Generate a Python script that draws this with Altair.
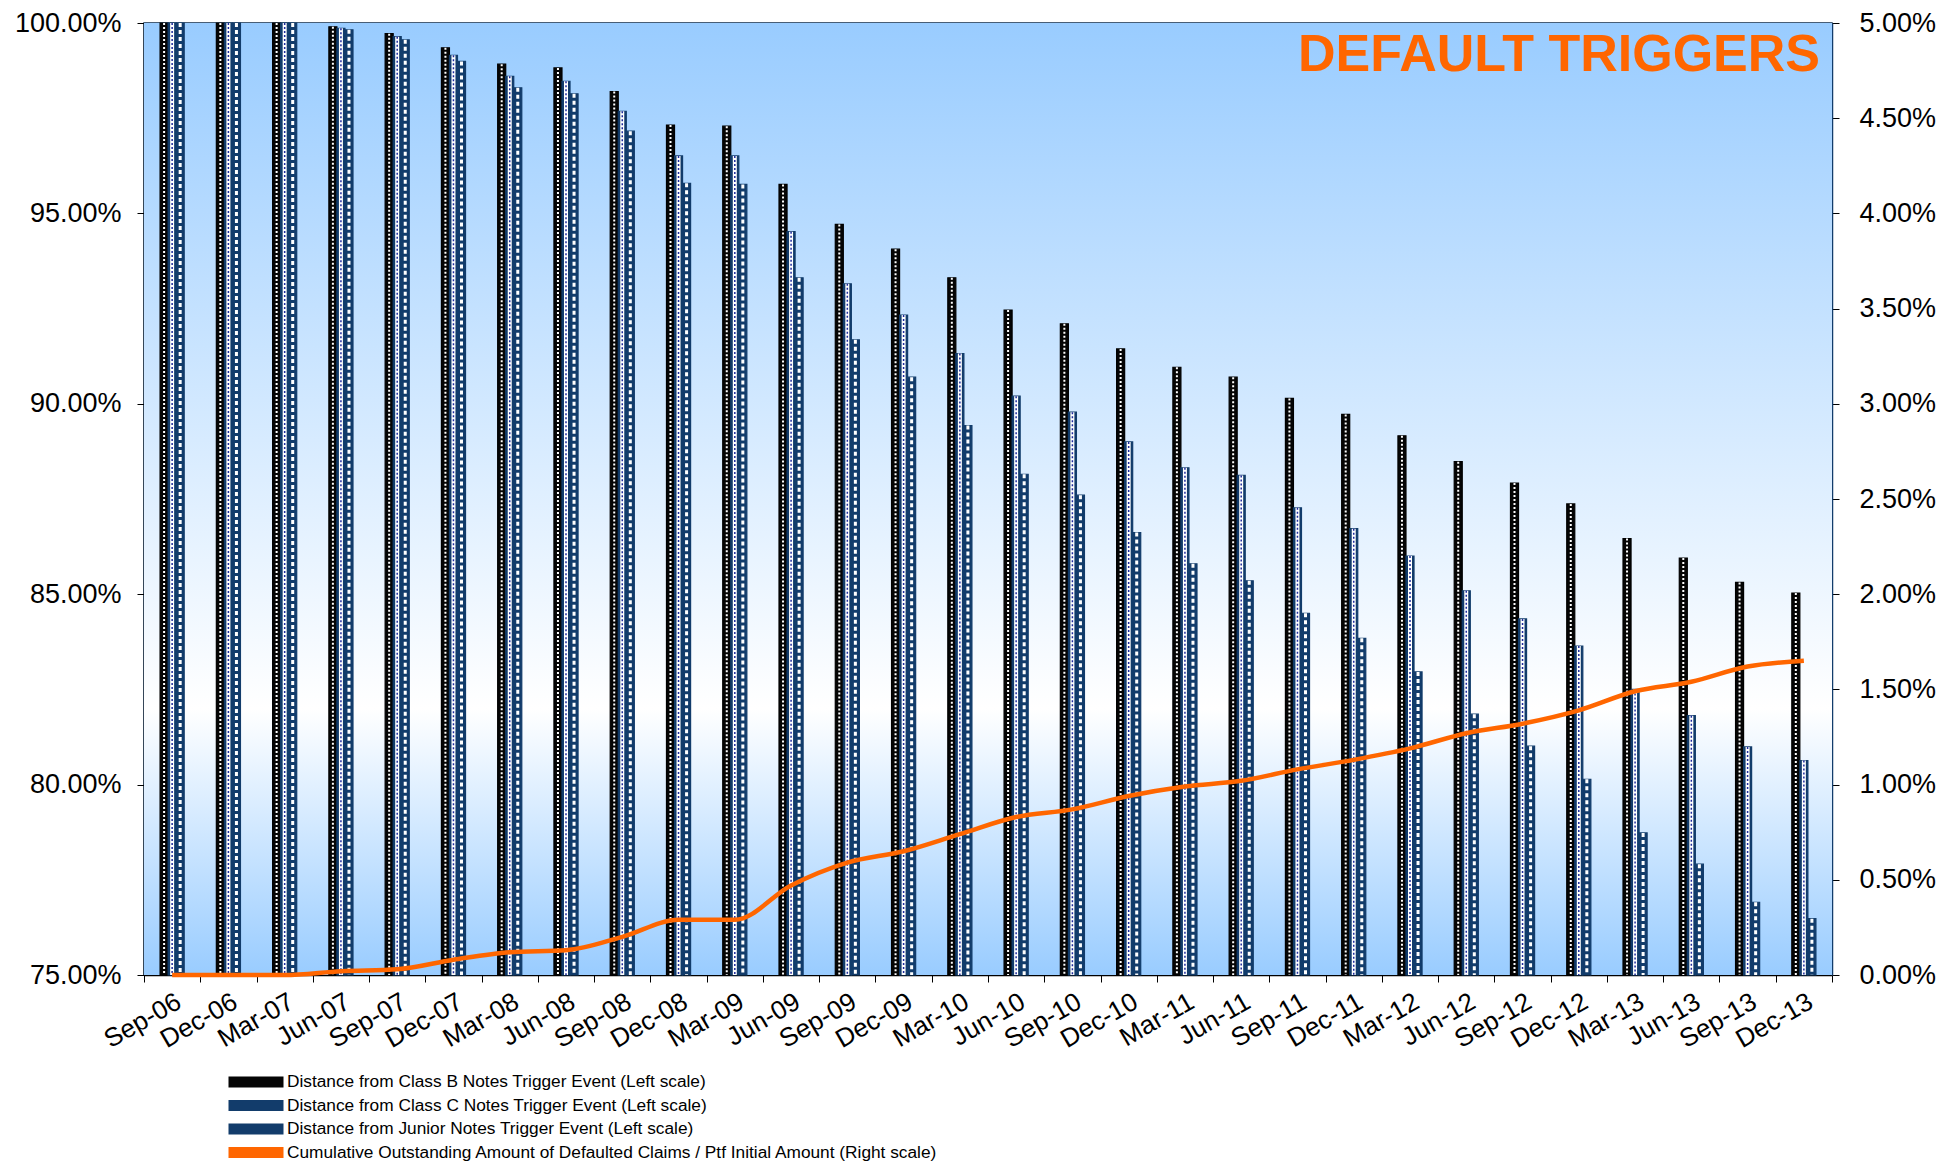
import altair as alt
import pandas as pd

periods = ["Sep-06", "Dec-06", "Mar-07", "Jun-07", "Sep-07", "Dec-07", "Mar-08", "Jun-08",
           "Sep-08", "Dec-08", "Mar-09", "Jun-09", "Sep-09", "Dec-09", "Mar-10", "Jun-10",
           "Sep-10", "Dec-10", "Mar-11", "Jun-11", "Sep-11", "Dec-11", "Mar-12", "Jun-12",
           "Sep-12", "Dec-12", "Mar-13", "Jun-13", "Sep-13", "Dec-13"]

class_b = [100.00, 100.00, 100.00, 99.90, 99.72, 99.35, 98.92, 98.82, 98.20, 97.32,
           97.29, 95.76, 94.71, 94.06, 93.31, 92.46, 92.10, 91.44, 90.96, 90.70,
           90.14, 89.72, 89.16, 88.48, 87.92, 87.37, 86.46, 85.95, 85.31, 85.03]
class_c = [100.00, 100.00, 100.00, 99.86, 99.64, 99.15, 98.60, 98.47, 97.68, 96.51,
           96.51, 94.52, 93.15, 92.33, 91.32, 90.20, 89.78, 89.00, 88.32, 88.12,
           87.27, 86.72, 86.00, 85.09, 84.35, 83.64, 82.50, 81.81, 80.99, 80.63]
junior = [100.00, 100.00, 100.00, 99.82, 99.56, 98.99, 98.30, 98.14, 97.16, 95.79,
          95.76, 93.31, 91.68, 90.70, 89.43, 88.15, 87.60, 86.62, 85.80, 85.35,
          84.50, 83.84, 82.96, 81.85, 81.01, 80.14, 78.73, 77.91, 76.91, 76.48]
cum_defaults = [0.00, 0.00, 0.00, 0.02, 0.03, 0.08, 0.12, 0.13, 0.20, 0.29,
                0.29, 0.47, 0.59, 0.65, 0.74, 0.83, 0.87, 0.94, 0.99, 1.02,
                1.08, 1.13, 1.19, 1.27, 1.32, 1.39, 1.49, 1.54, 1.62, 1.65]

series_names = [
    "Distance from Class B Notes Trigger Event (Left scale)",
    "Distance from Class C Notes Trigger Event (Left scale)",
    "Distance from Junior Notes Trigger Event (Left scale)",
    "Cumulative Outstanding Amount of Defaulted Claims / Ptf Initial Amount (Right scale)",
]
left_ticks = [75, 80, 85, 90, 95, 100]
right_ticks = [0, 0.5, 1.0, 1.5, 2.0, 2.5, 3.0, 3.5, 4.0, 4.5, 5.0]
title_text = "DEFAULT TRIGGERS"

rows = []
for name, vals in zip(series_names[:3], [class_b, class_c, junior]):
    for p, v in zip(periods, vals):
        rows.append({"period": p, "series": name, "value": v})
bars_df = pd.DataFrame(rows)
line_df = pd.DataFrame({"period": periods, "series": series_names[3], "value": cum_defaults})

W, H = 1688, 952
NAVY = "#123c6b"
ORANGE = "#ff6600"
FONT = "Liberation Sans"

# empty slots around the three bars give the Excel-like gap between groups
offset_domain = ["_a", "_b"] + series_names[:3] + ["_c", "_d"]

x_enc = alt.X(
    "period:N", sort=periods,
    scale=alt.Scale(domain=periods, paddingInner=0, paddingOuter=0),
    axis=alt.Axis(title=None, labelAngle=-30, labelAlign="right", labelBaseline="top",
                  labelFontSize=26, labelPadding=6, tickBand="extent", tickSize=7,
                  domainColor="black", tickColor="black", labelColor="black",
                  domainWidth=1.5, grid=False),
)
xoff = alt.XOffset("series:N", scale=alt.Scale(domain=offset_domain, paddingOuter=0, paddingInner=0))
y_left = alt.Y(
    "value:Q",
    scale=alt.Scale(domain=[75, 100], zero=False, nice=False),
    axis=alt.Axis(title=None, values=left_ticks, labelExpr="format(datum.value, '.2f') + '%'",
                  labelFontSize=27, labelPadding=16, tickSize=7, grid=False,
                  domainColor="black", tickColor="black", labelColor="black", domainWidth=1.5),
)
color = alt.Color(
    "series:N",
    scale=alt.Scale(domain=series_names, range=["#050505", NAVY, NAVY, ORANGE]),
    legend=alt.Legend(orient="none", legendX=101, legendY=1048, title=None,
                      symbolType="M-2.5,-0.5H2.5V0.5H-2.5Z", symbolSize=484,
                      labelFontSize=17.3, labelOffset=20, rowPadding=3.5, padding=0,
                      labelLimit=0, symbolStrokeWidth=0, symbolOpacity=1,
                      direction="vertical", labelColor="black", labelFont=FONT),
)

gradient = {
    "gradient": "linear", "x1": 0, "y1": 0, "x2": 0, "y2": 1,
    "stops": [
        {"offset": 0, "color": "#99ccff"},
        {"offset": 0.72, "color": "#ffffff"},
        {"offset": 1, "color": "#99ccff"},
    ],
}
background = alt.Chart(alt.Data(values=[{}])).mark_rect(fill=gradient).encode(
    x=alt.value(0), x2=alt.value(W), y=alt.value(0), y2=alt.value(H)
)

bars = alt.Chart(bars_df).mark_bar(strokeWidth=1.2).encode(
    x=x_enc, xOffset=xoff, y=y_left, y2=alt.datum(75), color=color,
    stroke=alt.condition(alt.datum.series == series_names[0], alt.value("#000000"), alt.value(NAVY)),
)


def rule_layer(name, **kw):
    return alt.Chart(bars_df).transform_filter(alt.datum.series == name).mark_rule(
        strokeCap="butt", **kw
    ).encode(x=x_enc, xOffset=xoff, y=y_left, y2=alt.datum(75))


rule_b = rule_layer(series_names[0], color="#ffffff", strokeWidth=2, strokeDash=[2, 2])
rule_cw = rule_layer(series_names[1], color="#ffffff", strokeWidth=4)
rule_cd = rule_layer(series_names[1], color="#1c2a9c", strokeWidth=1.5, strokeDash=[2, 2])
rule_j = rule_layer(series_names[2], color="#ffffff", strokeWidth=3, strokeDash=[4, 3])

title_layer = alt.Chart(alt.Data(values=[{"t": title_text}])).mark_text(
    align="right", baseline="alphabetic", fontSize=52, fontWeight="bold", color=ORANGE, font=FONT
).encode(x=alt.value(W - 12), y=alt.value(48), text="t:N")

left = alt.layer(background, bars, rule_b, rule_cw, rule_cd, rule_j, title_layer)

line = alt.Chart(line_df).mark_line(strokeWidth=4.5, interpolate="monotone").encode(
    x=x_enc,
    y=alt.Y("value:Q", scale=alt.Scale(domain=[0, 5], nice=False, zero=True),
            axis=alt.Axis(orient="right", title=None, values=right_ticks,
                          labelExpr="format(datum.value, '.2f') + '%'",
                          labelFontSize=27, labelPadding=20, tickSize=7, grid=False,
                          domainColor=NAVY, tickColor="black", labelColor="black", domainWidth=1.5)),
    color=color,
)

chart = alt.layer(left, line).resolve_scale(y="independent").properties(
    width=W, height=H,
    autosize=alt.AutoSizeParams(type="none"),
    padding={"left": 136, "top": 15, "right": 112, "bottom": 190},
).configure(font=FONT).configure_view(stroke="#0b2a4a", strokeWidth=1.5)

chart.save("out.html", embed_options={"renderer": "svg", "actions": False})
